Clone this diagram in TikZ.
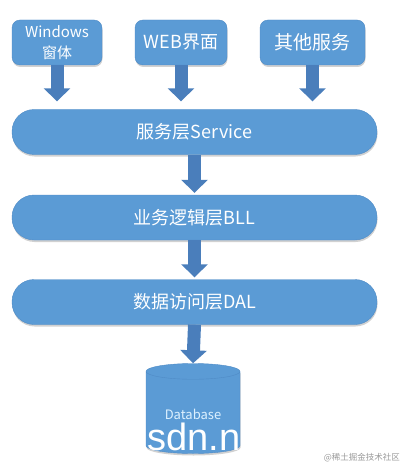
\documentclass[tikz,border=0pt]{standalone}
\usepackage{fontspec}
\setmainfont{Noto Sans CJK SC}
\newfontfamily\wmfont{Liberation Sans}
\usetikzlibrary{arrows.meta,shapes.geometric,shadows}
\definecolor{boxblue}{HTML}{5B9BD5}
\definecolor{boxline}{HTML}{4F8BC6}
\definecolor{arrowblue}{HTML}{4A7EBB}
\definecolor{dbtext}{HTML}{DDF1FF}
\tikzset{
  softshadow/.style={drop shadow={shadow xshift=0.5pt,shadow yshift=-2pt,opacity=0.18,fill=black}},
  client/.style={draw=boxline,fill=boxblue,rounded corners=8pt,minimum height=45pt,
    text=white,align=center,inner sep=2pt,softshadow},
  layer/.style={draw=boxline,fill=boxblue,rounded corners=22pt,minimum width=365pt,
    minimum height=45pt,text=white,font=\fontsize{18}{20}\selectfont,softshadow},
  dbstyle/.style={cylinder,shape border rotate=90,aspect=0.25,draw=boxline,fill=boxblue,
    minimum width=94pt,minimum height=90pt,text=dbtext,font=\fontsize{13}{14}\selectfont,softshadow},
  flow/.style={draw=arrowblue,line width=13pt,-{Triangle[length=13pt,width=26pt]}},
}
\begin{document}
\begin{tikzpicture}[x=1pt,y=-1pt]
  \useasboundingbox (0,0) rectangle (403,468);
  % clients
  \node[client,minimum width=90pt,font=\fontsize{15}{21}\selectfont] (win) at (57,42.5) {Windows\\窗体};
  \node[client,minimum width=92pt,font=\fontsize{18}{20}\selectfont] (web) at (181,42.5) {WEB界面};
  \node[client,minimum width=105pt,font=\fontsize{19}{20}\selectfont] (other) at (312.5,42.5) {其他服务};
  % layers
  \node[layer] (svc) at (194.5,132) {服务层Service};
  \node[layer] (bll) at (194.5,217.5) {业务逻辑层BLL};
  \node[layer] (dal) at (194.5,302) {数据访问层DAL};
  \node[dbstyle] (db) at (193,414) {Database};
  % arrows
  \foreach \c in {win,web,other}
    \draw[flow,shorten >=8pt] (\c.south) -- (\c.south |- svc.north);
  \draw[flow,shorten >=2pt] (svc.south) -- (bll.north);
  \draw[flow,shorten >=2pt] (bll.south) -- (dal.north);
  \draw[flow] (dal.south) -- (db.north);
  % watermarks
  \node[anchor=west,text=white,inner sep=0pt,font=\wmfont\fontsize{38}{40}\selectfont] (wm) at (147,437) {sdn.n};
  \node[anchor=east,text=black!40,inner sep=0pt,font=\fontsize{8.5}{10}\selectfont] (credit) at (400,458) {@稀土掘金技术社区};
\end{tikzpicture}
\end{document}
